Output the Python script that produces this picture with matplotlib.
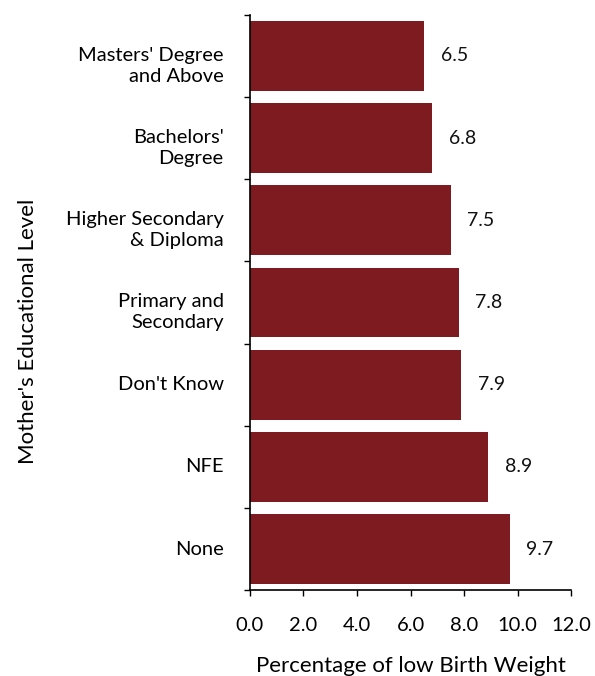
import matplotlib
matplotlib.use('Agg')
import matplotlib.pyplot as plt

categories = ["None", "NFE", "Don't Know", "Primary and\nSecondary",
              "Higher Secondary\n& Diploma", "Bachelors'\nDegree",
              "Masters' Degree\nand Above"]
values = [9.7, 8.9, 7.9, 7.8, 7.5, 6.8, 6.5]
xticks = [0, 2, 4, 6, 8, 10, 12]

plt.rcParams['font.family'] = ['Lato', 'DejaVu Sans']

fig, ax = plt.subplots(figsize=(5.95, 6.76), dpi=100)
fig.subplots_adjust(left=0.42, right=0.96, top=0.978, bottom=0.127)

pos = list(range(len(categories)))
ax.barh(pos, values, height=0.85, color='#7d1b20')

for p, v in zip(pos, values):
    ax.annotate('%.1f' % v, (v, p), xytext=(12, 0), textcoords='offset points',
                va='center', ha='left', fontsize=14, color='#111111')

# category labels drawn by hand so the two-line ones can sit a bit lower
for p, c in zip(pos, categories):
    dy = -7 if '\n' in c else 0
    ax.annotate(c, (0, p), xycoords=('axes fraction', 'data'),
                xytext=(-19, dy), textcoords='offset points',
                ha='right', va='center', fontsize=14.5, linespacing=1.3,
                annotation_clip=False)

ax.set_xlim(0, 12)
ax.set_ylim(-0.5, len(categories) - 0.5)
ax.set_xticks(xticks)
ax.set_xticklabels(['%.1f' % t for t in xticks], fontsize=14.5)
ax.set_yticks([p - 0.5 for p in pos] + [len(pos) - 0.5])
ax.set_yticklabels([])

ax.tick_params(axis='y', length=4, width=1)
ax.tick_params(axis='x', length=4, width=1, pad=15)

for s in ['top', 'right']:
    ax.spines[s].set_visible(False)
ax.spines['left'].set_linewidth(1.2)
ax.spines['bottom'].set_linewidth(1.2)

ax.set_xlabel('Percentage of low Birth Weight', fontsize=16, labelpad=16)
ax.set_ylabel("Mother's Educational Level", fontsize=16)
ax.yaxis.set_label_coords(-0.66, 0.45)

fig.savefig('out.png', dpi=100)
